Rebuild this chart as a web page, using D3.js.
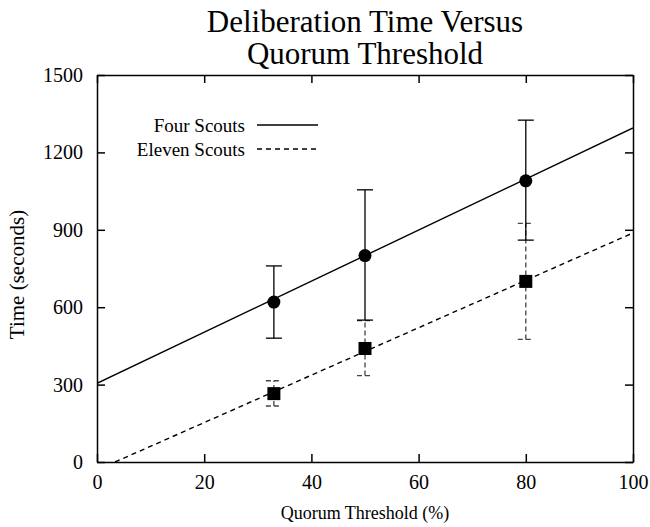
<!DOCTYPE html>
<meta charset="utf-8">
<script src="https://d3js.org/d3.v7.min.js"></script>
<style>
body { margin: 0; background: #fff; }
svg { display: block; }
svg text { font-family: "Liberation Serif", "Times New Roman", serif; fill: #000; }
.axis path, .axis line { stroke: #000; stroke-width: 1.5; }
.axis text { font-size: 20px; }
</style>
<body>
<div class="chart"></div>
<script>

// data
var thresholds = [33, 50, 80];
var fourMean = [620, 800, 1090];
var fourLow = [480, 550, 860];
var fourHigh = [760, 1055, 1325];
var elevenMean = [265, 440, 700];
var elevenLow = [217, 335, 475];
var elevenHigh = [315, 548, 925];

// fitted lines: [intercept, slope]
var fourFit = [305, 9.9];
var elevenFit = [-31, 9.19];

var xTicks = [0, 20, 40, 60, 80, 100];
var yTicks = [0, 300, 600, 900, 1200, 1500];

var margin = {top: 75, right: 17, bottom: 65, left: 97},
    width = 650 - margin.left - margin.right,
    height = 527 - margin.top - margin.bottom;

var svg = d3.select(".chart").append("svg")
    .attr("width", 650)
    .attr("height", 527);

var g = svg.append("g")
    .attr("transform", "translate(" + margin.left + "," + margin.top + ")");

var x = d3.scaleLinear().domain([0, 100]).range([0, width]);
var y = d3.scaleLinear().domain([0, 1500]).range([height, 0]);

// axes, ticks pointing inward, mirrored on top and right
g.append("g")
    .attr("class", "axis")
    .attr("transform", "translate(0," + height + ")")
    .call(d3.axisBottom(x).tickValues(xTicks).tickFormat(d3.format("d"))
      .tickSize(-8).tickSizeOuter(0).tickPadding(13));

g.append("g")
    .attr("class", "axis")
    .call(d3.axisLeft(y).tickValues(yTicks).tickFormat(d3.format("d"))
      .tickSize(-8).tickSizeOuter(0).tickPadding(14));

g.append("g")
    .attr("class", "axis")
    .call(d3.axisTop(x).tickValues(xTicks).tickSize(-8).tickSizeOuter(0).tickFormat(""));

g.append("g")
    .attr("class", "axis")
    .attr("transform", "translate(" + width + ",0)")
    .call(d3.axisRight(y).tickValues(yTicks).tickSize(-8).tickSizeOuter(0).tickFormat(""));

g.selectAll(".axis").attr("font-family", null).attr("font-size", null);

// clip for fitted lines
g.append("clipPath").attr("id", "clip")
  .append("rect").attr("width", width).attr("height", height);

function fitLine(fit, dash) {
  var x0 = 0, x1 = 100;
  var y0 = fit[0] + fit[1] * x0;
  if (y0 < 0) { x0 = -fit[0] / fit[1]; y0 = 0; }
  g.append("line")
      .attr("clip-path", "url(#clip)")
      .attr("x1", x(x0)).attr("y1", y(y0))
      .attr("x2", x(x1)).attr("y2", y(fit[0] + fit[1] * x1))
      .attr("stroke", "#000")
      .attr("stroke-width", 1.4)
      .attr("stroke-dasharray", dash);
}
fitLine(fourFit, null);
fitLine(elevenFit, "5,4");

// error bars
function errorBars(low, high, color, dash) {
  var eb = g.append("g");
  thresholds.forEach(function(t, i) {
    eb.append("line")
        .attr("x1", x(t)).attr("x2", x(t))
        .attr("y1", y(low[i])).attr("y2", y(high[i]))
        .attr("stroke", color).attr("stroke-width", 1.3)
        .attr("stroke-dasharray", dash);
    [low[i], high[i]].forEach(function(v) {
      eb.append("line")
          .attr("x1", x(t) - 8).attr("x2", x(t) + 8)
          .attr("y1", y(v)).attr("y2", y(v))
          .attr("stroke", color).attr("stroke-width", 1.3)
          .attr("stroke-dasharray", dash);
    });
  });
}
errorBars(elevenLow, elevenHigh, "#444", "5,3");
errorBars(fourLow, fourHigh, "#000", null);

// markers
g.selectAll(".four")
  .data(thresholds)
  .enter().append("circle")
    .attr("cx", function(d) { return x(d); })
    .attr("cy", function(d, i) { return y(fourMean[i]); })
    .attr("r", 6.5)
    .attr("fill", "#000");

g.selectAll(".eleven")
  .data(thresholds)
  .enter().append("rect")
    .attr("x", function(d) { return x(d) - 6.5; })
    .attr("y", function(d, i) { return y(elevenMean[i]) - 6.5; })
    .attr("width", 13)
    .attr("height", 13)
    .attr("fill", "#000");

// legend
var legendNames = ["Four Scouts", "Eleven Scouts"];
var legendDash = [null, "5,4"];
var legend = svg.selectAll(".legend")
    .data(legendNames)
    .enter().append("g")
    .attr("transform", function(d, i) { return "translate(0," + (125 + i * 24) + ")"; });

legend.append("text")
    .attr("x", 245)
    .attr("y", 7)
    .attr("text-anchor", "end")
    .attr("font-size", "19px")
    .text(function(d) { return d; });

legend.append("line")
    .attr("x1", 257).attr("x2", 318)
    .attr("stroke", "#000")
    .attr("stroke-width", 1.4)
    .attr("stroke-dasharray", function(d, i) { return legendDash[i]; });

// titles
var title = svg.append("text")
    .attr("x", margin.left + width / 2)
    .attr("text-anchor", "middle")
    .attr("font-size", "31px");
title.append("tspan").attr("x", margin.left + width / 2).attr("y", 32).text("Deliberation Time Versus");
title.append("tspan").attr("x", margin.left + width / 2).attr("y", 64).text("Quorum Threshold");

svg.append("text")
    .attr("x", margin.left + width / 2)
    .attr("y", 519)
    .attr("text-anchor", "middle")
    .attr("font-size", "18px")
    .text("Quorum Threshold (%)");

svg.append("text")
    .attr("transform", "translate(24," + (margin.top + height / 2 + 6) + ") rotate(-90)")
    .attr("text-anchor", "middle")
    .attr("font-size", "21px")
    .text("Time (seconds)");

</script>
</body>
</html>
